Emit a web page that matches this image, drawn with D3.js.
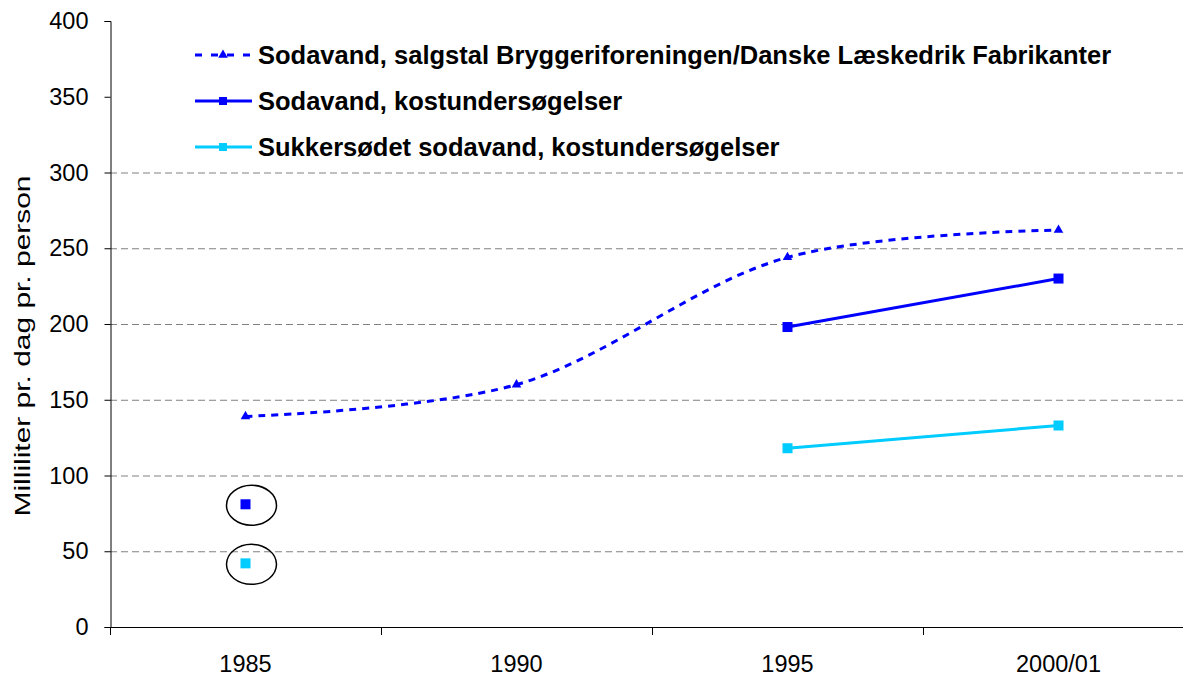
<!DOCTYPE html>
<html>
<head>
<meta charset="utf-8">
<script src="https://cdn.jsdelivr.net/npm/d3@7"></script>
<style>
  body { margin: 0; background: #fff; }
  svg { display: block; font-family: Arial, "Liberation Sans", sans-serif; }
</style>
</head>
<body>
<div id="chart"></div>
<script>
var categories = ['1985', '1990', '1995', '2000/01'];
var yTicks = [0, 50, 100, 150, 200, 250, 300, 350, 400];
var gridTicks = [50, 100, 150, 200, 250, 300];

var salesNames = 'Sodavand, salgstal Bryggeriforeningen/Danske Læskedrik Fabrikanter';
var salesValues = [139, 160, 244, 262];

var sodaName = 'Sodavand, kostundersøgelser';
var sodaValues = [81, null, 198, 230];

var sugarName = 'Sukkersødet sodavand, kostundersøgelser';
var sugarValues = [42, null, 118, 133];

// 1985 points from the diet surveys are circled
var circled = [81, 42];

var width = 1183, height = 677;
var margin = {top: 21, right: 0, bottom: 50, left: 110};

var svg = d3.select('#chart').append('svg')
    .attr('width', width)
    .attr('height', height);

var x = d3.scaleBand()
    .domain(categories)
    .range([margin.left, 1194]);

var y = d3.scaleLinear()
    .domain([0, 400])
    .range([627, margin.top]);

function cx(c) { return x(c) + x.bandwidth() / 2; }

// grid
svg.append('g')
  .selectAll('line')
    .data(gridTicks)
  .enter().append('line')
    .attr('x1', margin.left)
    .attr('x2', width)
    .attr('y1', function(d) { return y(d) + 0.5; })
    .attr('y2', function(d) { return y(d) + 0.5; })
    .attr('stroke', '#808080')
    .attr('stroke-width', 1)
    .attr('stroke-dasharray', '7,4');

// y axis
var yAxis = d3.axisLeft(y)
    .tickValues(yTicks)
    .tickSize(6)
    .tickPadding(16);

svg.append('g')
    .attr('class', 'axis axis--y')
    .attr('transform', 'translate(' + (margin.left + 0.5) + ',0)')
    .call(yAxis)
    .call(function(g) {
      g.select('.domain').attr('stroke', '#000');
      g.selectAll('.tick line').attr('stroke', '#000');
      g.selectAll('text')
        .attr('font-size', 23.5)
        .attr('font-family', 'Arial, "Liberation Sans", sans-serif')
        .attr('fill', '#000');
    });

// x axis: ticks on band edges, labels in band centers
var xAxisG = svg.append('g').attr('class', 'axis axis--x');

xAxisG.append('line')
    .attr('x1', margin.left)
    .attr('x2', width)
    .attr('y1', y(0) + 0.5)
    .attr('y2', y(0) + 0.5)
    .attr('stroke', '#000');

xAxisG.selectAll('.tick')
    .data(categories)
  .enter().append('line')
    .attr('class', 'tick')
    .attr('x1', function(d) { return Math.round(x(d)) + 0.5; })
    .attr('x2', function(d) { return Math.round(x(d)) + 0.5; })
    .attr('y1', y(0))
    .attr('y2', y(0) + 8)
    .attr('stroke', '#000');

xAxisG.selectAll('text')
    .data(categories)
  .enter().append('text')
    .attr('x', cx)
    .attr('y', 672)
    .attr('text-anchor', 'middle')
    .attr('font-size', 23.5)
    .attr('fill', '#000')
    .text(function(d) { return d; });

// y axis title
svg.append('text')
    .attr('transform', 'translate(30,' + 346 + ') rotate(-90)')
    .attr('text-anchor', 'middle')
    .attr('font-size', 22)
    .attr('textLength', 341)
    .attr('lengthAdjust', 'spacingAndGlyphs')
    .attr('fill', '#000')
    .text('Milliliter pr. dag pr. person');

var darkBlue = '#0000ff';
var cyan = '#00ccff';

// smoothed sales line
var salesPts = categories.map(function(c, i) { return [cx(c), y(salesValues[i])]; });
var smooth = d3.line().curve(d3.curveCatmullRom.alpha(0.5));

svg.append('path')
    .attr('d', smooth(salesPts))
    .attr('fill', 'none')
    .attr('stroke', darkBlue)
    .attr('stroke-width', 3)
    .attr('stroke-dasharray', '7,6');

var tri = d3.symbol().type(d3.symbolTriangle).size(40);

svg.append('g')
  .selectAll('path')
    .data(salesPts)
  .enter().append('path')
    .attr('d', tri)
    .attr('transform', function(d) { return 'translate(' + d[0] + ',' + d[1] + ')'; })
    .attr('fill', darkBlue);

// diet survey series
function drawSeries(values, color) {
  var pts = categories.map(function(c, i) { return [cx(c), values[i]]; })
    .filter(function(d) { return d[1] != null; });
  var linePts = pts.filter(function(d) { return d[0] > cx('1990'); });

  svg.append('path')
      .attr('d', d3.line()
        .x(function(d) { return d[0]; })
        .y(function(d) { return y(d[1]); })(linePts))
      .attr('fill', 'none')
      .attr('stroke', color)
      .attr('stroke-width', 3);

  svg.append('g')
    .selectAll('rect')
      .data(pts)
    .enter().append('rect')
      .attr('x', function(d) { return d[0] - 5; })
      .attr('y', function(d) { return y(d[1]) - 5; })
      .attr('width', 10)
      .attr('height', 10)
      .attr('fill', color);
}

drawSeries(sodaValues, darkBlue);
drawSeries(sugarValues, cyan);

// circles around 1985 survey points
svg.append('g')
  .selectAll('ellipse')
    .data(circled)
  .enter().append('ellipse')
    .attr('cx', cx('1985') + 6)
    .attr('cy', function(d) { return y(d) + 1; })
    .attr('rx', 25)
    .attr('ry', 20)
    .attr('fill', 'none')
    .attr('stroke', '#000')
    .attr('stroke-width', 1.5);

// legend
var legendItems = [
  {name: salesNames, color: darkBlue, dash: '7,9', marker: 'tri'},
  {name: sodaName, color: darkBlue, dash: null, marker: 'sq'},
  {name: sugarName, color: cyan, dash: null, marker: 'sq'}
];

var legend = svg.append('g')
    .attr('class', 'legend')
    .attr('transform', 'translate(195,55)');

var item = legend.selectAll('.legend-item')
    .data(legendItems)
  .enter().append('g')
    .attr('class', 'legend-item')
    .attr('transform', function(d, i) { return 'translate(0,' + (i * 46) + ')'; });

item.append('line')
    .attr('x1', 0)
    .attr('x2', 57)
    .attr('stroke', function(d) { return d.color; })
    .attr('stroke-width', 3)
    .attr('stroke-dasharray', function(d) { return d.dash; });

item.append('path')
    .attr('d', function(d) {
      return d.marker === 'tri' ? tri() : d3.symbol().type(d3.symbolSquare).size(64)();
    })
    .attr('transform', 'translate(28,0)')
    .attr('fill', function(d) { return d.color; });

item.append('text')
    .attr('x', 63)
    .attr('dy', '0.35em')
    .attr('font-size', 25.5)
    .attr('font-weight', 'bold')
    .attr('fill', '#000')
    .text(function(d) { return d.name; });
</script>
</body>
</html>
